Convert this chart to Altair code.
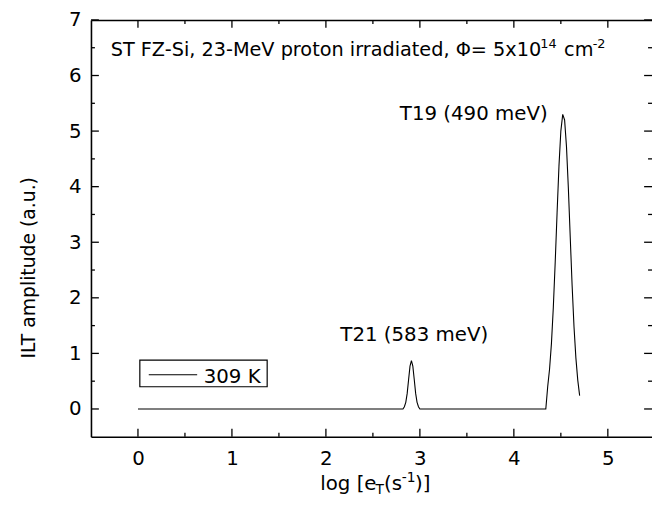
import altair as alt
import pandas as pd

# ---------------- data ----------------
log_e = [0.0, 2.82, 2.835, 2.85, 2.865, 2.88, 2.895, 2.91, 2.925, 2.94, 2.955, 2.97, 2.985, 3.0,
         4.34, 4.36, 4.38, 4.40, 4.42, 4.44, 4.46, 4.48, 4.50, 4.52, 4.54, 4.56, 4.58, 4.60,
         4.62, 4.64, 4.66, 4.68, 4.70]
amp = [0.0, 0.0, 0.04, 0.12, 0.28, 0.53, 0.77, 0.87, 0.77, 0.53, 0.28, 0.12, 0.04, 0.0,
       0.0, 0.40, 0.72, 1.18, 1.83, 2.64, 3.53, 4.37, 5.00, 5.30, 5.20, 4.72, 3.97, 3.09,
       2.22, 1.48, 0.92, 0.52, 0.24]
series_label = "309 K"

X_MAJOR = [0, 1, 2, 3, 4, 5]
X_MINOR = [0.5, 1.5, 2.5, 3.5, 4.5]
Y_MAJOR = [0, 1, 2, 3, 4, 5, 6, 7]
Y_MINOR = [0.5, 1.5, 2.5, 3.5, 4.5, 5.5, 6.5]

df = pd.DataFrame({"log_e": log_e, "amp": amp})

FONT = "DejaVu Sans"
FS = 20
W, H = 568, 422
MAJ, MIN = 8, 4
TW = 1.3
xs = alt.Scale(domain=[-0.5, 5.47], nice=False, zero=False)
ys = alt.Scale(domain=[-0.5, 7], nice=False, zero=False)

lab = dict(labelFont=FONT, labelFontSize=20, labelColor="black", labelFlush=False,
           labelOverlap=False, format="d", grid=False, ticks=False, tickSize=0,
           domain=True, domainColor="black", domainWidth=1.6, title=None)

main = alt.Chart(df).mark_line(color="black", strokeWidth=1.1).encode(
    x=alt.X("log_e:Q", scale=xs,
            axis=alt.Axis(orient="bottom", values=X_MAJOR, labelPadding=12, **lab)),
    y=alt.Y("amp:Q", scale=ys,
            axis=alt.Axis(orient="left", values=Y_MAJOR, labelPadding=10, **lab)),
)

# top frame line (domain-only axis)
top_frame = alt.Chart(df).mark_line(strokeOpacity=0).encode(
    x=alt.X("log_e:Q", scale=xs,
            axis=alt.Axis(orient="top", values=[], labels=False, ticks=False, grid=False,
                          domain=True, domainColor="black", domainWidth=1.6, title=None)),
    y=alt.Y("amp:Q", scale=ys, axis=None),
)


def xticks(vals, length, top=False):
    d = pd.DataFrame({"v": vals})
    y0, y1 = (0, length) if top else (H, H - length)
    return alt.Chart(d).mark_rule(color="black", strokeWidth=TW).encode(
        x=alt.X("v:Q", scale=xs, axis=None), y=alt.value(y0), y2=alt.value(y1))


def yticks(vals, length, right=False):
    d = pd.DataFrame({"v": vals})
    x0, x1 = (W, W - length) if right else (0, length)
    return alt.Chart(d).mark_rule(color="black", strokeWidth=TW).encode(
        y=alt.Y("v:Q", scale=ys, axis=None), x=alt.value(x0), x2=alt.value(x1))


layers = [
    main, top_frame,
    xticks(X_MAJOR, MAJ), xticks(X_MINOR, MIN),
    xticks(X_MAJOR, MAJ, top=True), xticks(X_MINOR, MIN, top=True),
    yticks(Y_MAJOR, MAJ), yticks(Y_MINOR, MIN),
    yticks(Y_MAJOR, MAJ, right=True), yticks(Y_MINOR, MIN, right=True),
]


def txt(text, x, y, dx=0, dy=0, size=FS, align="left", angle=0, baseline="alphabetic"):
    d = pd.DataFrame({"x": [x], "y": [y], "t": [text]})
    return alt.Chart(d).mark_text(
        font=FONT, fontSize=size, align=align, baseline=baseline, angle=angle,
        dx=dx, dy=dy, color="black"
    ).encode(
        x=alt.X("x:Q", scale=xs, axis=None),
        y=alt.Y("y:Q", scale=ys, axis=None),
        text="t:N",
    )


# top caption
cap_x, cap_y = -0.29, 6.345
layers += [
    txt("ST FZ-Si, 23-MeV proton irradiated, \u03a6= 5x10", cap_x, cap_y, size=19.5),
    txt("14", cap_x, cap_y, dx=435, dy=-8, size=13),
    txt("cm", cap_x, cap_y, dx=459, size=19.5),
    txt("-2", cap_x, cap_y, dx=488, dy=-8, size=13),
]

# peak labels
layers += [
    txt("T21 (583 meV)", 2.94, 1.22, align="center"),
    txt("T19 (490 meV)", 3.573, 5.2, align="center"),
]

# x title with sub/superscript
xt_x, xt_y = 1.94, -1.45
layers += [
    txt("log [e", xt_x, xt_y),
    txt("T", xt_x, xt_y, dx=56, dy=5, size=14),
    txt("(s", xt_x, xt_y, dx=64.5),
    txt("-1", xt_x, xt_y, dx=82.5, dy=-8, size=14),
    txt(")]", xt_x, xt_y, dx=96),
]

# y title
layers.append(txt("ILT amplitude (a.u.)", -1.154, 2.54, size=19, align="center",
                  angle=270, baseline="middle"))

# legend box
leg = pd.DataFrame({"x": [0.02], "x2": [1.375], "y": [0.88], "y2": [0.40]})
layers.append(alt.Chart(leg).mark_rect(fill="white", stroke="black", strokeWidth=1.2).encode(
    x=alt.X("x:Q", scale=xs, axis=None), x2="x2:Q",
    y=alt.Y("y:Q", scale=ys, axis=None), y2="y2:Q"))
legl = pd.DataFrame({"x": [0.115], "x2": [0.63], "y": [0.615]})
layers.append(alt.Chart(legl).mark_rule(color="black", strokeWidth=1.1).encode(
    x=alt.X("x:Q", scale=xs, axis=None), x2="x2:Q",
    y=alt.Y("y:Q", scale=ys, axis=None)))
layers.append(txt(series_label, 0.70, 0.465))

chart = alt.layer(*layers).resolve_axis(x="independent", y="independent").properties(
    width=W, height=H,
    padding={"left": 84, "top": 9, "right": 0, "bottom": 66},
    autosize=alt.AutoSizeParams(type="none"),
    background="white",
).configure_view(stroke=None).configure_axis(grid=False)

chart.save("out.html", embed_options={"renderer": "svg", "actions": False})
